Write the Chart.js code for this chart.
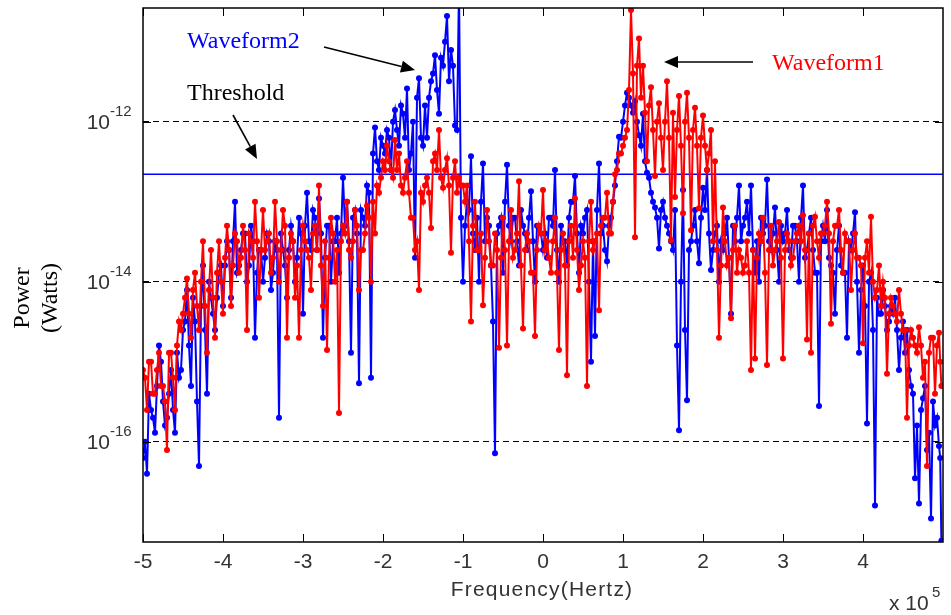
<!DOCTYPE html>
<html>
<head>
<meta charset="utf-8">
<script src="https://cdn.jsdelivr.net/npm/chart.js@4.4.1/dist/chart.umd.min.js"></script>
<style>
  html, body { margin: 0; padding: 0; background: #fff; }
  #wrap { width: 951px; height: 615px; }
</style>
</head>
<body>
<div id="wrap"><canvas id="myChart" width="951" height="615"></canvas></div>
<script>
// frequency axis, units of 10^5 Hz
const freq = [
  -5.00, -4.95, -4.90, -4.85, -4.80, -4.75, -4.70, -4.65, -4.60, -4.55, -4.50,
  -4.45, -4.40, -4.35, -4.30, -4.25, -4.20, -4.15, -4.10, -4.05, -4.00,
  -3.95, -3.90, -3.85, -3.80, -3.75, -3.70, -3.65, -3.60, -3.55, -3.50,
  -3.45, -3.40, -3.35, -3.30, -3.25, -3.20, -3.15, -3.10, -3.05, -3.00,
  -2.95, -2.90, -2.85, -2.80, -2.75, -2.70, -2.65, -2.60, -2.55, -2.50,
  -2.45, -2.40, -2.35, -2.30, -2.25, -2.20, -2.15, -2.10, -2.05, -2.00,
  -1.95, -1.90, -1.85, -1.80, -1.75, -1.70, -1.65, -1.60, -1.55, -1.50,
  -1.45, -1.40, -1.35, -1.30, -1.25, -1.20, -1.15, -1.10, -1.05, -1.00,
  -0.95, -0.90, -0.85, -0.80, -0.75, -0.70, -0.65, -0.60, -0.55, -0.50,
  -0.45, -0.40, -0.35, -0.30, -0.25, -0.20, -0.15, -0.10, -0.05, 0.00,
  0.05, 0.10, 0.15, 0.20, 0.25, 0.30, 0.35, 0.40, 0.45, 0.50,
  0.55, 0.60, 0.65, 0.70, 0.75, 0.80, 0.85, 0.90, 0.95, 1.00,
  1.05, 1.10, 1.15, 1.20, 1.25, 1.30, 1.35, 1.40, 1.45, 1.50,
  1.55, 1.60, 1.65, 1.70, 1.75, 1.80, 1.85, 1.90, 1.95, 2.00,
  2.05, 2.10, 2.15, 2.20, 2.25, 2.30, 2.35, 2.40, 2.45, 2.50,
  2.55, 2.60, 2.65, 2.70, 2.75, 2.80, 2.85, 2.90, 2.95, 3.00,
  3.05, 3.10, 3.15, 3.20, 3.25, 3.30, 3.35, 3.40, 3.45, 3.50,
  3.55, 3.60, 3.65, 3.70, 3.75, 3.80, 3.85, 3.90, 3.95, 4.00,
  4.05, 4.10, 4.15, 4.20, 4.25, 4.30, 4.35, 4.40, 4.45, 4.50,
  4.55, 4.60, 4.65, 4.70, 4.75, 4.80, 4.85, 4.90, 4.95, 4.98
];

// in-between frequency bins
const freqMid = [
  -4.975, -4.925, -4.875, -4.825, -4.775, -4.725, -4.675, -4.625, -4.575, -4.525,
  -4.475, -4.425, -4.375, -4.325, -4.275, -4.225, -4.175, -4.125, -4.075, -4.025,
  -3.975, -3.925, -3.875, -3.825, -3.775, -3.725, -3.675, -3.625, -3.575, -3.525,
  -3.475, -3.425, -3.375, -3.325, -3.275, -3.225, -3.175, -3.125, -3.075, -3.025,
  -2.975, -2.925, -2.875, -2.825, -2.775, -2.725, -2.675, -2.625, -2.575, -2.525,
  -2.475, -2.425, -2.375, -2.325, -2.275, -2.225, -2.175, -2.125, -2.075, -2.025,
  -1.975, -1.925, -1.875, -1.825, -1.775, -1.725, -1.675, -1.625, -1.575, -1.525,
  -1.475, -1.425, -1.375, -1.325, -1.275, -1.225, -1.175, -1.125, -1.075, -1.025,
  -0.975, -0.925, -0.875, -0.825, -0.775, -0.725, -0.675, -0.625, -0.575, -0.525,
  -0.475, -0.425, -0.375, -0.325, -0.275, -0.225, -0.175, -0.125, -0.075, -0.025,
  0.025, 0.075, 0.125, 0.175, 0.225, 0.275, 0.325, 0.375, 0.425, 0.475,
  0.525, 0.575, 0.625, 0.675, 0.725, 0.775, 0.825, 0.875, 0.925, 0.975,
  1.025, 1.075, 1.125, 1.175, 1.225, 1.275, 1.325, 1.375, 1.425, 1.475,
  1.525, 1.575, 1.625, 1.675, 1.725, 1.775, 1.825, 1.875, 1.925, 1.975,
  2.025, 2.075, 2.125, 2.175, 2.225, 2.275, 2.325, 2.375, 2.425, 2.475,
  2.525, 2.575, 2.625, 2.675, 2.725, 2.775, 2.825, 2.875, 2.925, 2.975,
  3.025, 3.075, 3.125, 3.175, 3.225, 3.275, 3.325, 3.375, 3.425, 3.475,
  3.525, 3.575, 3.625, 3.675, 3.725, 3.775, 3.825, 3.875, 3.925, 3.975,
  4.025, 4.075, 4.125, 4.175, 4.225, 4.275, 4.325, 4.375, 4.425, 4.475,
  4.525, 4.575, 4.625, 4.675, 4.725, 4.775, 4.825, 4.875, 4.925, 4.965
];

// Waveform1 (red), watts
const waveform1 = [
  7.9e-16, 2.5e-16, 1e-15, 4e-16, 1.3e-15, 5e-16, 7.9e-17, 1.3e-15, 2.5e-16, 3.2e-15, 4e-15,
  1.1e-14, 2e-15, 1.3e-14, 2.5e-15, 3.2e-14, 1.3e-15, 2.5e-14, 2e-15, 3.2e-14, 4e-15,
  5e-14, 5e-15, 4e-14, 1.3e-14, 5e-14, 2.5e-15, 3.2e-14, 1e-13, 6.3e-15, 7.9e-14,
  3.2e-14, 1.3e-14, 1e-13, 1e-14, 7.9e-14, 2e-15, 4e-14, 6.3e-15, 2e-15, 5e-14,
  2.5e-14, 7.9e-15, 5e-14, 1.6e-13, 5e-15, 1.4e-15, 6.3e-14, 1e-14, 2.3e-16, 5e-14,
  1e-13, 2e-14, 7.9e-14, 7.9e-15, 2.5e-14, 8.9e-14, 1e-14, 4e-14, 1.3e-13, 3.2e-13,
  5e-13, 2.5e-13, 5.9e-13, 4e-13, 1.3e-13, 3.2e-13, 6.3e-14, 2.5e-14, 7.9e-15, 1e-13,
  2e-13, 4.7e-14, 4e-13, 7.9e-13, 1.5e-13, 3.5e-13, 2.3e-14, 3.2e-13, 2e-13, 1.6e-13,
  1.6e-13, 3.2e-15, 1e-13, 2.5e-14, 5.1e-15, 7.9e-14, 1.6e-14, 4e-14, 1.5e-15, 6.3e-14,
  1.6e-15, 7.9e-14, 2.5e-14, 1.8e-13, 2.6e-15, 4e-14, 1.3e-14, 2.1e-15, 5e-14, 1.4e-13,
  3.2e-14, 1.3e-14, 6.3e-14, 1.4e-15, 4e-14, 6.8e-16, 5e-14, 1.1e-13, 7.9e-15, 3.2e-14,
  5e-16, 1e-13, 3.2e-14, 4.4e-15, 6.3e-14, 1.3e-13, 4e-14, 2.2e-13, 4e-13, 5e-13,
  7.9e-13, 2.5e-11, 3.6e-14, 1.1e-11, 5e-12, 3.2e-13, 2.7e-12, 2.1e-13, 1.7e-12, 2.5e-13,
  3.2e-12, 3.3e-14, 1.15e-13, 2.1e-12, 7.2e-14, 2.3e-12, 4.4e-14, 1.5e-12, 8.3e-14, 1.2e-12,
  2.5e-13, 7.9e-13, 3.2e-13, 2e-15, 8.5e-14, 1.6e-14, 3.5e-15, 5e-14, 2.5e-14, 1.3e-14,
  3.2e-14, 7.9e-16, 1.1e-15, 4e-14, 6.3e-14, 9.1e-16, 5e-14, 2.5e-14, 5.6e-14, 1.1e-15,
  4e-14, 1.6e-14, 3.2e-14, 5e-14, 6.8e-14, 1.9e-15, 1.3e-15, 6.5e-14, 2e-14, 4e-14,
  1e-13, 3e-15, 5e-14, 7.9e-14, 1.3e-14, 3.2e-14, 7.9e-15, 4e-14, 2e-14, 1.7e-15,
  3.2e-14, 6.5e-14, 6.3e-15, 1.6e-14, 1e-14, 7.1e-16, 6.3e-15, 4e-15, 7.9e-15, 2.5e-15,
  2e-16, 2.5e-15, 1.6e-15, 2.7e-15, 6.3e-16, 5e-17, 2e-15, 4e-16, 2.3e-15, 5e-16
];
const waveform1Mid = [
  6.3e-16, 1e-15, 4e-16, 7.9e-16, 5e-16, 3.2e-16, 1.3e-15, 6.3e-16, 1.6e-15, 2.5e-15,
  6.3e-15, 4e-15, 7.9e-15, 5e-15, 1e-14, 5e-15, 7.9e-15, 6.3e-15, 1.3e-14, 1e-14,
  2e-14, 2.5e-14, 1.6e-14, 3.2e-14, 2e-14, 2.5e-14, 4e-14, 2e-14, 3.2e-14, 2.5e-14,
  2.5e-14, 4e-14, 2e-14, 3.2e-14, 2.5e-14, 5e-14, 2e-14, 3.2e-14, 1.6e-14, 2.5e-14,
  3.2e-14, 2e-14, 4e-14, 2.5e-14, 1.6e-14, 3.2e-14, 2e-14, 4e-14, 2.5e-14, 3.2e-14,
  4e-14, 2.5e-14, 3.2e-14, 5e-14, 2.5e-14, 4e-14, 6.3e-14, 1e-13, 1.6e-13, 2e-13,
  2.5e-13, 3.2e-13, 2e-13, 2.5e-13, 1.6e-13, 2e-13, 1.3e-13, 6.3e-14, 3.2e-14, 1.3e-13,
  1.6e-13, 1.3e-13, 3.2e-13, 2.5e-13, 2e-13, 2.5e-13, 1.6e-13, 2e-13, 1.3e-13, 1.6e-13,
  1e-13, 3.2e-14, 5e-14, 2.5e-14, 4e-14, 2e-14, 3.2e-14, 1.6e-14, 2.5e-14, 2e-14,
  2.5e-14, 3.2e-14, 2e-14, 4e-14, 1.6e-14, 2.5e-14, 3.2e-14, 1.3e-14, 2.5e-14, 4e-14,
  2.5e-14, 2e-14, 3.2e-14, 1.3e-14, 2.5e-14, 1.6e-14, 3.2e-14, 2e-14, 2.5e-14, 1.6e-14,
  2e-14, 3.2e-14, 2.5e-14, 4e-14, 5e-14, 6.3e-14, 4e-14, 1e-13, 2.5e-13, 4e-13,
  6.3e-13, 2.5e-12, 4e-12, 5e-12, 2e-12, 1.3e-12, 1.6e-12, 7.9e-13, 1e-12, 6.3e-13,
  1e-12, 6.3e-13, 1.3e-12, 7.9e-13, 5e-13, 1e-12, 6.3e-13, 7.9e-13, 5e-13, 6.3e-13,
  5e-13, 4e-13, 3.2e-14, 2.5e-14, 1.6e-14, 3.2e-14, 2e-14, 2.5e-14, 1.3e-14, 2e-14,
  1.6e-14, 1.3e-14, 2.5e-14, 2e-14, 3.2e-14, 1.3e-14, 2.5e-14, 1.6e-14, 3.2e-14, 2e-14,
  2.5e-14, 3.2e-14, 2e-14, 4e-14, 3.2e-14, 2.5e-14, 4e-14, 5e-14, 3.2e-14, 4e-14,
  5e-14, 4e-14, 3.2e-14, 5e-14, 2.5e-14, 4e-14, 3.2e-14, 2.5e-14, 2e-14, 1.6e-14,
  2e-14, 1.3e-14, 1e-14, 7.9e-15, 5e-15, 6.3e-15, 4e-15, 5e-15, 3.2e-15, 4e-15,
  2.5e-15, 1.6e-15, 2e-15, 1.3e-15, 1.6e-15, 1e-15, 1.3e-15, 2e-15, 1.6e-15, 1e-15
];

// Waveform2 (blue), watts
const waveform2 = [
  6.3e-17, 4e-17, 2.5e-16, 1.3e-16, 1.6e-15, 3.2e-16, 2e-16, 7.9e-16, 1.3e-16, 6.3e-16, 2.5e-15,
  7.9e-15, 5e-16, 3.2e-15, 5e-17, 1.6e-14, 4e-16, 6.3e-15, 2.5e-15, 1.3e-14, 5e-15,
  3.2e-14, 6.3e-15, 1e-13, 1.6e-14, 4e-14, 1e-14, 5e-14, 2e-15, 2.5e-14, 1e-14,
  4e-14, 7.9e-15, 3.2e-14, 2e-16, 2.5e-14, 6.3e-15, 5e-14, 1e-14, 6.3e-14, 4e-15,
  1.3e-13, 2.5e-14, 6.3e-14, 1.1e-13, 2e-15, 5e-14, 1e-14, 3.2e-14, 1.3e-14, 2e-13,
  1e-13, 1.3e-15, 7.9e-14, 5.4e-16, 6.3e-14, 1.6e-13, 6.3e-16, 8.5e-13, 2.5e-13, 5e-13,
  7.9e-13, 2.5e-13, 1.4e-12, 5e-13, 1.26e-12, 2.6e-12, 4e-13, 2e-14, 3.5e-12, 5e-13,
  6.3e-13, 3.2e-12, 6.8e-12, 1.26e-12, 5e-12, 2.1e-11, 7.9e-12, 9e-13, 5e-11, 1e-14,
  1e-13, 3.7e-13, 2.5e-14, 1e-14, 3e-13, 6.3e-14, 1.6e-14, 7.2e-17, 5e-14, 1.3e-14,
  2.9e-13, 3.2e-14, 6.3e-14, 1.6e-14, 5e-14, 2.5e-14, 1.35e-13, 1e-14, 5e-14, 2.5e-14,
  2e-14, 6.3e-14, 2.5e-13, 1e-14, 3.2e-14, 1.6e-14, 1e-13, 2.1e-13, 1.3e-14, 4e-14,
  7.9e-14, 1e-15, 2.1e-15, 3e-13, 5e-14, 1.8e-14, 6.3e-14, 1.6e-13, 6.5e-13, 1e-12,
  2.3e-12, 1.6e-12, 1.8e-12, 6.8e-13, 1.26e-12, 2.3e-13, 1.3e-13, 8.5e-14, 2.6e-14, 1e-13,
  5e-14, 3.2e-14, 7.9e-14, 1.4e-16, 1.4e-13, 3.3e-16, 3.2e-14, 7.9e-14, 1.7e-14, 1.5e-13,
  2.5e-13, 1.4e-14, 4e-14, 1e-14, 2.5e-14, 6.3e-14, 4e-15, 3.2e-14, 1.6e-13, 5e-14,
  1e-13, 1.6e-13, 1.3e-14, 1e-14, 4e-14, 1.9e-13, 2.5e-14, 8.5e-14, 1e-14, 3.2e-14,
  7.9e-14, 2e-14, 5e-14, 1e-14, 1.6e-13, 2.5e-14, 6.3e-14, 1.3e-14, 2.8e-16, 5e-14,
  7.9e-14, 1.6e-14, 4e-15, 5e-14, 1.3e-14, 2e-15, 2.5e-14, 7.4e-14, 1.3e-15, 1.6e-14,
  1.7e-16, 1.3e-14, 1.6e-17, 4e-15, 7.9e-15, 2.5e-15, 5e-15, 6.3e-15, 7.9e-16, 3.2e-15,
  2.5e-15, 5e-16, 3.5e-17, 1.7e-17, 3.5e-16, 7.9e-17, 1.1e-17, 1.6e-16, 8.9e-17, 5.8e-18
];
const waveform2Mid = [
  1e-16, 4e-16, 2e-16, 5e-16, 1e-15, 1.6e-16, 4e-16, 2.5e-16, 1.3e-15, 7.9e-16,
  3.2e-15, 1.6e-15, 6.3e-15, 3.2e-16, 5e-15, 2.5e-15, 1e-14, 4e-15, 6.3e-15, 1.6e-14,
  1.6e-14, 2.5e-14, 3.2e-14, 1.3e-14, 2.5e-14, 4e-14, 1.6e-14, 3.2e-14, 1.3e-14, 2.5e-14,
  2e-14, 3.2e-14, 1.3e-14, 2.5e-14, 4e-14, 1.6e-14, 2.5e-14, 3.2e-14, 2e-14, 4e-14,
  5e-14, 3.2e-14, 7.9e-14, 2.5e-14, 4e-14, 2e-14, 5e-14, 3.2e-14, 6.3e-14, 4e-14,
  5e-14, 3.2e-14, 6.3e-14, 4e-14, 7.9e-14, 5e-14, 1.3e-13, 4e-13, 3.2e-13, 6.3e-13,
  4e-13, 6.3e-13, 1e-12, 7.9e-13, 1.6e-12, 6.3e-13, 2.5e-13, 1e-12, 2e-12, 6.3e-13,
  1.6e-12, 2e-12, 4e-12, 2.5e-12, 6.3e-12, 1e-11, 3.2e-12, 5e-12, 7.9e-13, 6.3e-14,
  5e-14, 7.9e-14, 4e-14, 6.3e-14, 1e-13, 3.2e-14, 5e-14, 3.2e-15, 4e-14, 6.3e-14,
  1e-13, 5e-14, 6.3e-14, 3.2e-14, 7.9e-14, 4e-14, 6.3e-14, 3.2e-14, 5e-14, 4e-14,
  4e-14, 6.3e-14, 5e-14, 2.5e-14, 5e-14, 3.2e-14, 6.3e-14, 1e-13, 4e-14, 5e-14,
  6.3e-14, 1e-14, 3.2e-14, 7.9e-14, 4e-14, 2.5e-14, 5e-14, 1e-13, 3.2e-13, 6.3e-13,
  1.6e-12, 2e-12, 1.3e-12, 1e-12, 5e-13, 3.2e-13, 2e-13, 1e-13, 6.3e-14, 7.9e-14,
  6.3e-14, 4e-14, 2.5e-14, 1.6e-15, 1e-14, 2.5e-15, 2.5e-14, 5e-14, 3.2e-14, 6.3e-14,
  7.9e-14, 4e-14, 2.5e-14, 5e-14, 3.2e-14, 4e-14, 2e-14, 5e-14, 6.3e-14, 3.2e-14,
  6.3e-14, 4e-14, 2.5e-14, 3.2e-14, 6.3e-14, 5e-14, 3.2e-14, 4e-14, 2.5e-14, 5e-14,
  4e-14, 2.5e-14, 5e-14, 3.2e-14, 6.3e-14, 2e-14, 4e-14, 2.5e-14, 1.3e-14, 3.2e-14,
  3.2e-14, 2e-14, 1.3e-14, 2.5e-14, 1.6e-14, 1.3e-14, 3.2e-14, 4e-14, 1e-14, 7.9e-15,
  5e-15, 1e-14, 2.5e-15, 6.3e-15, 4e-15, 5e-15, 3.2e-15, 4e-15, 2.5e-15, 2e-15,
  1.3e-15, 7.9e-16, 4e-16, 1.6e-16, 2.5e-16, 5e-16, 1.3e-16, 3.2e-16, 2e-16, 6.3e-17
];

const threshold = 2.2e-13;
const xTicks = [-5, -4, -3, -2, -1, 0, 1, 2, 3, 4];
const yTicks = [1e-16, 1e-14, 1e-12];
const xRange = [-5, 5];
const yRange = [5.6e-18, 2.64e-11];

// merge the main bins and the in-between bins into one sorted series
function toPoints(vals, midVals) {
  const pts = vals.map((v, i) => ({ x: freq[i], y: v }))
    .concat(midVals.map((v, i) => ({ x: freqMid[i], y: v })));
  return pts.sort((a, b) => a.x - b.x);
}

function arrow(ctx, x1, y1, x2, y2) {
  const ang = Math.atan2(y2 - y1, x2 - x1);
  const len = 14, half = 6;
  const bx = x2 - len * Math.cos(ang), by = y2 - len * Math.sin(ang);
  ctx.beginPath();
  ctx.moveTo(x1, y1);
  ctx.lineTo(bx, by);
  ctx.stroke();
  ctx.beginPath();
  ctx.moveTo(x2, y2);
  ctx.lineTo(bx + half * Math.sin(ang), by - half * Math.cos(ang));
  ctx.lineTo(bx - half * Math.sin(ang), by + half * Math.cos(ang));
  ctx.closePath();
  ctx.fill();
}

const decor = {
  id: "decor",
  afterDraw(chart) {
    const { ctx, chartArea: a, scales } = chart;
    const x = scales.x, y = scales.y;
    ctx.save();

    // box and inward ticks
    ctx.strokeStyle = "#000";
    ctx.lineWidth = 1.5;
    ctx.strokeRect(a.left, a.top, a.right - a.left, a.bottom - a.top);
    ctx.lineWidth = 1;
    ctx.beginPath();
    xTicks.forEach((v) => {
      const px = Math.round(x.getPixelForValue(v)) + 0.5;
      ctx.moveTo(px, a.bottom); ctx.lineTo(px, a.bottom - 8);
      ctx.moveTo(px, a.top); ctx.lineTo(px, a.top + 8);
    });
    yTicks.forEach((v) => {
      const py = Math.round(y.getPixelForValue(v)) + 0.5;
      ctx.moveTo(a.left, py); ctx.lineTo(a.left + 8, py);
      ctx.moveTo(a.right, py); ctx.lineTo(a.right - 8, py);
    });
    ctx.stroke();

    // y tick labels 10^n
    ctx.fillStyle = "#333";
    yTicks.forEach((v) => {
      const py = y.getPixelForValue(v);
      const exp = Math.round(Math.log10(v));
      ctx.font = "21px 'Liberation Sans', Arial, sans-serif";
      ctx.textAlign = "right";
      ctx.textBaseline = "alphabetic";
      ctx.fillText("10", 110, py + 7);
      ctx.font = "15px 'Liberation Sans', Arial, sans-serif";
      ctx.textAlign = "left";
      ctx.fillText(String(exp), 110, py - 6);
    });

    // x axis title and multiplier
    ctx.font = "21px 'Liberation Sans', Arial, sans-serif";
    ctx.textAlign = "center";
    ctx.textBaseline = "middle";
    if ("letterSpacing" in ctx) ctx.letterSpacing = "1.2px";
    ctx.fillText("Frequency(Hertz)", 542, 590);
    if ("letterSpacing" in ctx) ctx.letterSpacing = "0px";
    ctx.textAlign = "left";
    ctx.textBaseline = "alphabetic";
    ctx.fillText("x 10", 889, 610);
    ctx.font = "15px 'Liberation Sans', Arial, sans-serif";
    ctx.fillText("5", 932, 597);

    // y axis title
    ctx.fillStyle = "#000";
    ctx.font = "24px 'Liberation Serif', 'Times New Roman', serif";
    ctx.textAlign = "center";
    ctx.textBaseline = "middle";
    ctx.save();
    ctx.translate(23, 298);
    ctx.rotate(-Math.PI / 2);
    ctx.fillText("Power", 0, 0);
    ctx.restore();
    ctx.save();
    ctx.translate(51, 298);
    ctx.rotate(-Math.PI / 2);
    ctx.fillText("(Watts)", 0, 0);
    ctx.restore();

    // annotations
    ctx.textAlign = "left";
    ctx.fillStyle = "#0000ff";
    ctx.fillText("Waveform2", 187, 42);
    ctx.fillStyle = "#000";
    ctx.fillText("Threshold", 187, 94);
    ctx.fillStyle = "#ff0000";
    ctx.fillText("Waveform1", 772, 64);

    ctx.strokeStyle = "#000";
    ctx.fillStyle = "#000";
    ctx.lineWidth = 1.6;
    arrow(ctx, 324, 47, 415, 70);
    arrow(ctx, 233, 115, 257, 159);
    arrow(ctx, 753, 62, 664, 62);

    ctx.restore();
  },
};

const ctx = document.getElementById("myChart");

new Chart(ctx, {
  type: "line",
  data: {
    datasets: [
      {
        label: "Waveform1",
        data: toPoints(waveform1, waveform1Mid),
        borderColor: "#ff0000",
        backgroundColor: "#ff0000",
        borderWidth: 2,
        pointRadius: 3,
        pointBorderWidth: 0,
        order: 0,
      },
      {
        label: "Waveform2",
        data: toPoints(waveform2, waveform2Mid),
        borderColor: "#0000ff",
        backgroundColor: "#0000ff",
        borderWidth: 2,
        pointRadius: 3,
        pointBorderWidth: 0,
        order: 1,
      },
      {
        label: "Threshold",
        data: [{ x: xRange[0], y: threshold }, { x: xRange[1], y: threshold }],
        borderColor: "#0000ff",
        borderWidth: 1.5,
        pointRadius: 0,
        order: 2,
      },
    ],
  },
  options: {
    responsive: false,
    maintainAspectRatio: false,
    animation: false,
    layout: { padding: { left: 0, right: 8, top: 8, bottom: 0 } },
    plugins: {
      legend: { display: false },
      tooltip: { enabled: false },
    },
    scales: {
      x: {
        type: "linear",
        min: xRange[0],
        max: xRange[1],
        afterBuildTicks: (scale) => {
          scale.ticks = xTicks.map((v) => ({ value: v }));
        },
        afterFit: (scale) => { scale.height = 73; },
        grid: { display: false, drawTicks: false },
        border: { display: false },
        ticks: {
          color: "#333",
          padding: 8,
          maxRotation: 0,
          font: { family: "'Liberation Sans', Arial, sans-serif", size: 21 },
        },
      },
      y: {
        type: "logarithmic",
        min: yRange[0],
        max: yRange[1],
        afterBuildTicks: (scale) => {
          scale.ticks = yTicks.map((v) => ({ value: v }));
        },
        afterFit: (scale) => { scale.width = 143; },
        grid: { color: "#000", lineWidth: 1, drawTicks: false },
        border: { display: false, dash: [6, 4] },
        ticks: { display: false },
      },
    },
  },
  plugins: [decor],
});
</script>
</body>
</html>
